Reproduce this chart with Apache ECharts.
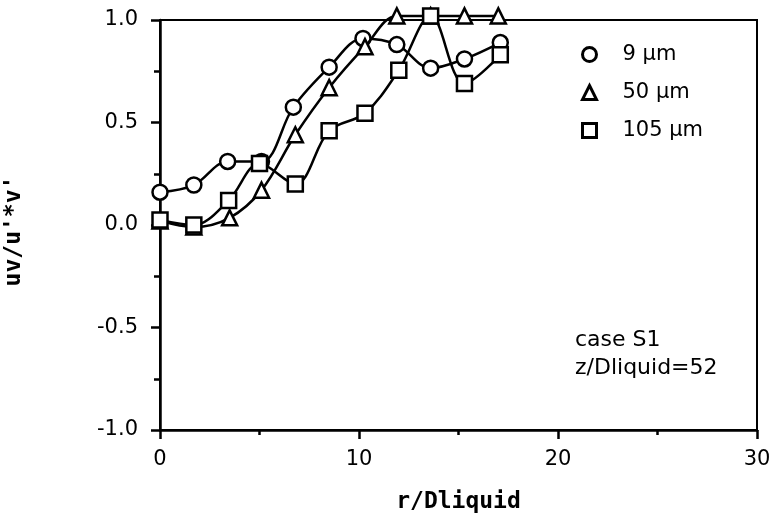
<!DOCTYPE html>
<html>
<head>
<meta charset="utf-8">
<script src="https://cdn.jsdelivr.net/npm/echarts@6/dist/echarts.min.js"></script>
<style>html,body{margin:0;padding:0;background:#fff}#c{width:772px;height:522px}</style>
</head>
<body>
<div id="c"></div>
<script>
var seriesNames = ['9 \u00b5m', '50 \u00b5m', '105 \u00b5m'];
var s9 = [[0,0.16],[1.7,0.195],[3.4,0.31],[5.1,0.31],[6.7,0.575],[8.5,0.77],[10.2,0.91],[11.9,0.88],[13.6,0.765],[15.3,0.81],[17.1,0.89]];
var s50 = [[0,0.02],[1.7,-0.01],[3.5,0.035],[5.1,0.17],[6.8,0.44],[8.5,0.67],[10.3,0.87],[11.9,1.02],[13.6,1.02],[15.3,1.02],[17.0,1.02]];
var s105 = [[0,0.025],[1.7,0.0],[3.45,0.12],[5.0,0.30],[6.8,0.20],[8.5,0.46],[10.3,0.545],[12.0,0.755],[13.6,1.02],[15.3,0.69],[17.1,0.83]];
var xTicks = [0, 10, 20, 30];
var yTicks = [-1.0, -0.5, 0.0, 0.5, 1.0];
var noteLines = ['case S1', 'z/Dliquid=52'];

var font = 'DejaVu Sans, Liberation Sans, sans-serif';
var monoFont = 'DejaVu Sans Mono, monospace';
var symbols = ['circle', 'triangle', 'rect'];
var data = [s9, s50, s105];
var chart = echarts.init(document.getElementById('c'));
chart.setOption({
  animation: false,
  backgroundColor: '#fff',
  grid: {left: 160, right: 15, top: 20, bottom: 92, show: true, borderColor: '#000', borderWidth: 2, containLabel: false, outerBoundsMode: 'none'},
  legend: {
    orient: 'vertical', left: 576, top: 39, itemWidth: 14, itemHeight: 14, itemGap: 17,
    data: seriesNames.map(function (n, i) { return {name: n, icon: symbols[i]}; }),
    itemStyle: {color: '#fff', borderColor: '#000', borderWidth: 3},
    textStyle: {fontFamily: font, fontSize: 21, color: '#000', padding: [0, 0, 0, 21]}
  },
  xAxis: {
    type: 'value', min: xTicks[0], max: xTicks[xTicks.length - 1], interval: 10,
    name: 'r/Dliquid', nameLocation: 'middle', nameGap: 61,
    nameTextStyle: {fontFamily: monoFont, fontSize: 23, fontWeight: 'bold', color: '#000'},
    axisLine: {onZero: false, lineStyle: {color: '#000', width: 2.5}},
    axisTick: {show: true, inside: false, length: 9, lineStyle: {color: '#000', width: 2.5}},
    minorTick: {show: true, splitNumber: 2, length: 5, lineStyle: {color: '#000', width: 2.5}},
    splitLine: {show: false},
    axisLabel: {fontFamily: font, fontSize: 21, color: '#000', margin: 19}
  },
  yAxis: {
    type: 'value', min: yTicks[0], max: yTicks[yTicks.length - 1], interval: 0.5,
    name: "uv/u'*v'", nameLocation: 'middle', nameGap: 134, nameRotate: 90,
    nameTextStyle: {fontFamily: monoFont, fontSize: 23, fontWeight: 'bold', color: '#000', padding: [0, 12, 0, 0]},
    axisLine: {onZero: false, lineStyle: {color: '#000', width: 2.5}},
    axisTick: {show: true, inside: false, length: 9, lineStyle: {color: '#000', width: 2.5}},
    minorTick: {show: true, splitNumber: 2, length: 6, lineStyle: {color: '#000', width: 2.5}},
    splitLine: {show: false},
    axisLabel: {fontFamily: font, fontSize: 21, color: '#000', margin: 22, formatter: function (v) { return v.toFixed(1); }}
  },
  graphic: [{
    type: 'text', left: 575, top: 326,
    style: {text: noteLines.join('\n'), fontFamily: font, fontSize: 22, fill: '#000', lineHeight: 28}
  }],
  series: data.map(function (d, i) {
    return {
      name: seriesNames[i], type: 'line', data: d, smooth: 0.35, clip: false,
      symbol: symbols[i], symbolSize: 15,
      lineStyle: {color: '#000', width: 2.5},
      itemStyle: {color: '#fff', borderColor: '#000', borderWidth: 2.5},
      z: 2 + i
    };
  })
});
</script>
</body>
</html>
